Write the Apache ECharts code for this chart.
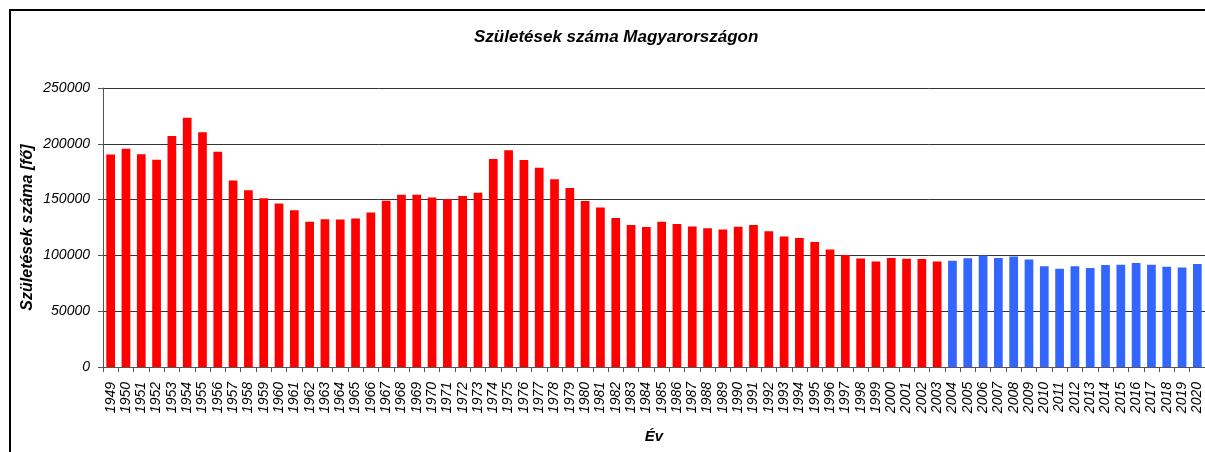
<!DOCTYPE html>
<html>
<head>
<meta charset="utf-8">
<script src="https://cdn.jsdelivr.net/npm/echarts@6/dist/echarts.min.js"></script>
<style>
html,body{margin:0;padding:0;background:#fff;}
#frame{position:absolute;left:9px;top:9px;width:1210px;height:460px;border-left:2px solid #000;border-top:2px solid #000;box-sizing:border-box;}
#chart{position:absolute;left:0;top:0;width:1205px;height:452px;}
</style>
</head>
<body>
<div id="chart"></div>
<div id="frame"></div>
<script>
const years = [];
for (let y = 1949; y <= 2020; y++) years.push(String(y));
const births = [
  190400,195600,190600,185800,206900,223300,210400,192800,167200,158400,
  151200,146500,140400,130100,132300,132100,133000,138500,148900,154400,
  154300,151800,150600,153300,156200,186300,194200,185400,178600,168200,
  160400,148700,142900,133600,127300,125400,130200,128200,125800,124300,
  123300,125700,127200,121700,117000,115600,112100,105300,100400,97300,
  94600,97600,97000,96800,94600,95100,97500,99900,97600,99100,
  96400,90300,88000,90300,88700,91500,91700,93100,91600,89800,
  89200,92300
];
const splitYear = 2004;
const redColor = '#FF0000';
const blueColor = '#3366FF';

const chart = echarts.init(document.getElementById('chart'));
const font = 'Liberation Sans, Arial, sans-serif';
chart.setOption({
  animation: false,
  title: {
    text: 'Születések száma Magyarországon',
    left: 469,
    top: 24,
    textStyle: {fontFamily: font, fontSize: 17, fontWeight: 'bold', fontStyle: 'italic', color: '#000'}
  },
  grid: {left: 103, right: -2, top: 88, bottom: 85, containLabel: false},
  xAxis: {
    type: 'category',
    data: years,
    name: 'Év',
    nameLocation: 'middle',
    nameGap: 62,
    nameMoveOverlap: false,
    nameTextStyle: {fontFamily: font, fontSize: 15, fontWeight: 'bold', fontStyle: 'italic', color: '#000'},
    axisLine: {lineStyle: {color: '#555', width: 1}},
    axisTick: {show: true, alignWithLabel: false, length: 5, lineStyle: {color: '#555'}},
    axisLabel: {rotate: 90, interval: 0, margin: 15, fontFamily: font, fontSize: 14, fontStyle: 'italic', color: '#000'}
  },
  yAxis: {
    type: 'value',
    min: 0, max: 250000, interval: 50000,
    name: 'Születések száma [fő]',
    nameLocation: 'middle',
    nameGap: 67,
    nameMoveOverlap: false,
    nameTextStyle: {fontFamily: font, fontSize: 16, fontWeight: 'bold', fontStyle: 'italic', color: '#000'},
    axisLine: {show: true, lineStyle: {color: '#555'}},
    axisTick: {show: true, length: 5, lineStyle: {color: '#555'}},
    axisLabel: {margin: 13, fontFamily: font, fontSize: 14, fontStyle: 'italic', color: '#000', formatter: v => String(v)},
    splitLine: {lineStyle: {color: '#333', width: 1}}
  },
  series: [{
    type: 'bar',
    barWidth: '57%',
    data: births.map((v, i) => ({
      value: v,
      itemStyle: {color: Number(years[i]) >= splitYear ? blueColor : redColor}
    }))
  }]
});
</script>
</body>
</html>
